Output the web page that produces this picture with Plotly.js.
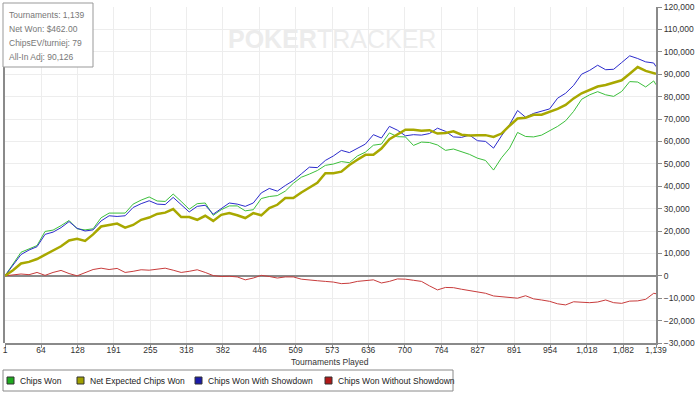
<!DOCTYPE html>
<html>
<head>
<meta charset="utf-8">
<script src="https://cdn.plot.ly/plotly-3.0.1.min.js"></script>
<style>
html,body{margin:0;padding:0;background:#fff;}
#chart{width:700px;height:394px;}
</style>
</head>
<body>
<div id="chart"></div>
<script>
// Tournament numbers (x)
var tournaments = [1,15,29,43,57,71,85,99,113,127,141,155,169,183,197,211,225,239,253,267,281,295,309,323,337,351,365,379,393,407,421,435,449,463,477,491,505,519,533,547,561,575,589,603,617,631,645,659,673,687,701,715,729,743,757,771,785,799,813,827,841,855,869,883,897,911,925,939,953,967,981,995,1009,1023,1037,1051,1065,1079,1093,1107,1121,1135,1139];

// Values in thousands of chips
var chipsWon = [0,5.5,10.5,12,13.5,19.8,20.4,22.4,24.7,21,
  20.5,21,25.9,28,28,28,32,33.8,35.2,33.4,
  33.2,36.5,33.2,29.7,32.2,32.5,27,29.5,31.2,31.2,
  29,29.5,34.5,35.4,35.8,37.8,41.3,44,45.4,47,
  49.3,49.9,51,50.5,53.5,55.2,58.3,58.8,63.8,62.1,
  62,58.2,59.7,59.5,58.4,56,56.6,55.4,54.2,52.5,
  51.5,47.2,52.7,57,64,62.2,62,62.8,64.8,66.7,
  69.2,73.4,78.8,80.8,82.2,80.8,80.1,82.3,86.7,86.5,
  84.3,87,85.3];

var netExpected = [0,2.5,5.5,6.2,7.5,9.4,11.5,13.2,15.8,16.5,
  15.6,18.5,22,22.5,23.3,21.5,22.7,25,26,27.6,
  28.2,29.8,26.2,26.2,25,26.8,24.5,27.2,28,27,
  25.8,28,27,30.2,31.7,34.7,34.7,37.2,39.3,41.5,
  45.8,45.8,46.5,49.5,51.8,54,54,56.8,61,63,
  65.2,65.2,64.8,65,63.5,63.8,64.5,63,62.6,62.8,
  62.8,62,63.5,67,70.2,70.6,71.9,71.9,73.3,74.5,
  76.3,79.2,81.5,83.1,84.5,85.2,86.2,87.3,90.2,93.2,
  91.5,90.4,90.2];

var withShowdown = [0,4.5,9.5,11.5,13,18.5,19.5,21.5,24.2,21.2,
  20,20.5,24.5,26.8,26.5,26.8,30.5,32.2,33.5,32,
  31.8,35,31.8,28.5,31,31.5,27.5,30.2,32.5,32,
  31,32.5,37,39,37.8,40.3,42.5,45.5,48.5,48.3,
  51.5,53.5,56,55,57,58.8,63,61.5,66.7,65,
  62.5,63,62.8,63.5,65.9,64.5,62,61.8,62.8,60.3,
  60,57,62.5,67.5,73.8,70.8,72.5,73.5,74.5,79.3,
  81.5,85,90,91.7,94,92,92.2,95.2,98.2,97,
  95.5,95,93.4];

var withoutShowdown = [0,0.3,0.8,0.5,1.5,0.2,1.5,2.4,1,0,
  1.5,2.8,3.4,2.8,3.3,1.5,2,2.7,2.5,3,
  3.4,2.5,1.5,2,2.7,1.5,0.1,-0.3,-0.2,-0.5,
  -1.8,-1,0.2,-0.3,-1,-0.5,-0.5,-1.5,-2,-2.2,
  -2.5,-2.8,-3.5,-3.3,-2.5,-2,-1.8,-3.2,-2.5,-1.4,
  -1.5,-2,-2.5,-4.5,-6.3,-5.2,-5.3,-6,-6.5,-7.3,
  -7.8,-9,-9.3,-9.6,-10,-8.9,-10.3,-10.8,-11.4,-12.5,
  -13,-11.6,-11.8,-12,-11.7,-10.8,-12,-12.3,-11.3,-11.2,
  -10.5,-7.8,-8];

var xTickVals = [1,64,128,191,255,318,382,446,509,573,636,700,764,827,891,954,1018,1082,1139];
var xTickText = ["1","64","128","191","255","318","382","446","509","573","636","700","764","827","891","954","1,018","1,082","1,139"];

var seriesNames = ["Chips Won","Net Expected Chips Won","Chips Won With Showdown","Chips Won Without Showdown"];
var lineColors = ["#3cbf3c","#a8a800","#2b2bcc","#c83c3c"];
var legendColors = ["#1faa1f","#a0a000","#1a1aa8","#b01818"];

function k(arr){ return arr.map(function(v){ return v*1000; }); }

var data = [
  {x: tournaments, y: k(withoutShowdown), mode:'lines', name: seriesNames[3], line:{color: lineColors[3], width:1}, showlegend:false},
  {x: tournaments, y: k(chipsWon), mode:'lines', name: seriesNames[0], line:{color: lineColors[0], width:1}, showlegend:false},
  {x: tournaments, y: k(withShowdown), mode:'lines', name: seriesNames[2], line:{color: lineColors[2], width:1}, showlegend:false},
  {x: tournaments, y: k(netExpected), mode:'lines', name: seriesNames[1], line:{color: lineColors[1], width:2.5}, showlegend:false}
];

// pixel helpers for decorations (plot area: x 5..656, y 7..343)
var L=5, R=656, T=7, B=343;
function px(x){ return (x-L)/(R-L); }
function py(y){ return (B-y)/(B-T); }

var font = "Liberation Sans, Arial, sans-serif";
var shapes = [
  {type:'line', xref:'paper', yref:'paper', x0:px(4), x1:px(4), y0:0, y1:1, line:{color:'#8a8a8a', width:2}},
  // legend box
  {type:'rect', xref:'paper', yref:'paper', x0:px(3), x1:px(453), y0:py(370), y1:py(391), line:{color:'#8a8a8a', width:1}, fillcolor:'#ffffff'},
  // stats box
  {type:'rect', xref:'paper', yref:'paper', x0:px(3), x1:px(93), y0:py(3), y1:py(67), line:{color:'#999999', width:1}, fillcolor:'#ffffff', layer:'above'}
];
var annotations = [
  {xref:'paper', yref:'paper', x:px(332), y:py(39), xanchor:'center', yanchor:'middle', showarrow:false,
   text:'<b>POKER</b>TRACKER', font:{family:'Liberation Sans Narrow, Liberation Sans, Arial', size:25, color:'#ececec'}},
  {xref:'paper', yref:'paper', x:px(330), y:py(362), xanchor:'center', yanchor:'middle', showarrow:false,
   text:'Tournaments Played', font:{family:font, size:8.5, color:'#333'}}
];
var legendLeft = [7, 77, 195, 325];
var legendOrder = [0,1,2,3];
legendOrder.forEach(function(i, j){
  var lx = legendLeft[j];
  shapes.push({type:'rect', xref:'paper', yref:'paper', x0:px(lx), x1:px(lx+7), y0:py(377), y1:py(384),
    fillcolor: legendColors[i], line:{color:'#333', width:1}});
  annotations.push({xref:'paper', yref:'paper', x:px(lx+11), y:py(380.5), xanchor:'left', yanchor:'middle', showarrow:false,
    text: seriesNames[i], font:{family:font, size:8.5, color:'#222'}});
});
var stats = ["Tournaments: 1,139","Net Won: $462.00","ChipsEV/turniej: 79","All-In Adj: 90,126"];
stats.forEach(function(s, i){
  annotations.push({xref:'paper', yref:'paper', x:px(7), y:py(15+14*i), xanchor:'left', yanchor:'middle', showarrow:false,
    text:s, font:{family:font, size:8.5, color:'#777'}});
});

var layout = {
  width:700, height:394,
  margin:{l:L, r:700-R, t:T, b:394-B},
  paper_bgcolor:'#ffffff', plot_bgcolor:'#ffffff',
  showlegend:false,
  font:{family:font, size:8.5, color:'#333'},
  xaxis:{range:[1,1139], tickvals:xTickVals, ticktext:xTickText, showgrid:true, gridcolor:'#ededed',
    showline:true, linecolor:'#8a8a8a', linewidth:2, ticks:'outside', ticklen:3, tickcolor:'#8a8a8a',
    ticklabelstandoff:-5,
    tickfont:{family:font, size:8.5, color:'#333'}, zeroline:false, fixedrange:true},
  yaxis:{range:[-30000,120000], dtick:10000, tickformat:',d', side:'right', showgrid:true, gridcolor:'#ededed',
    showline:true, linecolor:'#8a8a8a', linewidth:2, ticks:'outside', ticklen:4, tickcolor:'#8a8a8a',
    tickfont:{family:font, size:8.5, color:'#333'}, zeroline:true, zerolinecolor:'#8a8a8a', zerolinewidth:2, fixedrange:true},
  shapes: shapes,
  annotations: annotations
};
Plotly.newPlot('chart', data, layout, {staticPlot:true, displayModeBar:false});
</script>
</body>
</html>
